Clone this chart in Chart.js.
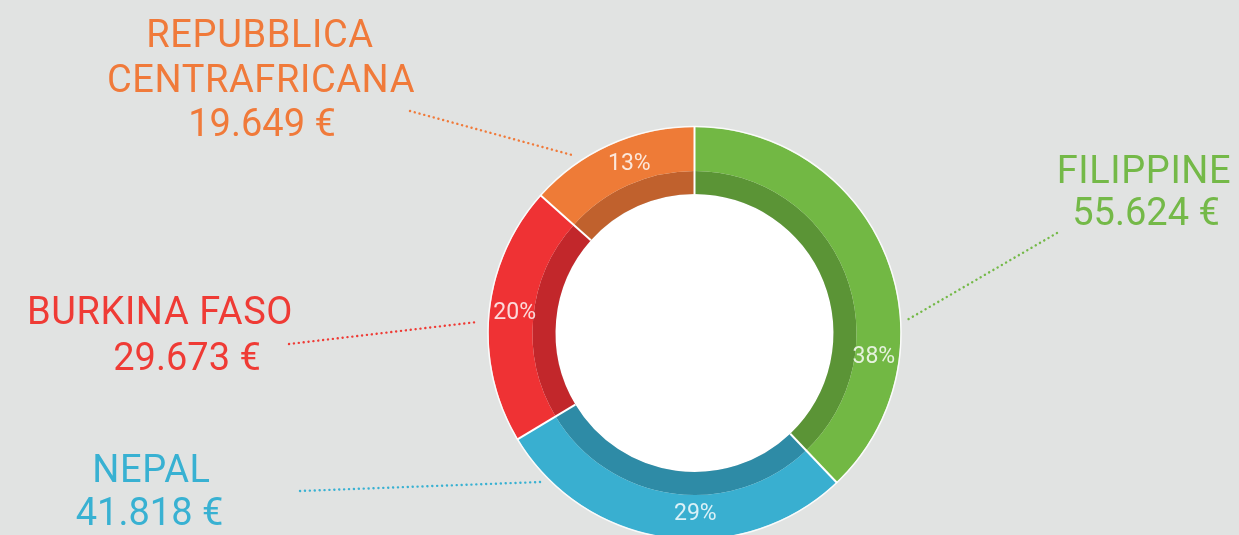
<!DOCTYPE html>
<html>
<head>
<meta charset="utf-8">
<script src="https://cdn.jsdelivr.net/npm/chart.js@4.4.1/dist/chart.umd.min.js"></script>
<style>
    html, body { margin: 0; padding: 0; background: #e1e3e2; overflow: hidden; }
    #wrap { width: 1239px; height: 666px; }
</style>
</head>
<body>
<div id="wrap"><canvas id="donazioniChart" width="1239" height="666"></canvas></div>
<script>
    // Dati per paese
    var paesi = [['FILIPPINE'], ['NEPAL'], ['BURKINA FASO'], ['REPUBBLICA', 'CENTRAFRICANA']];
    var importi = [55624, 41818, 29673, 19649];
    var coloriChiari = ['#72b844', '#39afd0', '#ef3234', '#ee7b37'];
    var coloriScuri = ['#5b9436', '#2e8ba6', '#c2272b', '#c0612d'];
    var coloriTesto = ['#74b948', '#38b1d2', '#ef3b35', '#f07a3a'];

    function formatEuro(v) {
        return String(v).replace(/\B(?=(\d{3})+(?!\d))/g, '.') + ' €';
    }

    // percentuali intere che sommano a 100 (metodo dei resti maggiori)
    function percentuali(valori) {
        var tot = valori.reduce(function (a, b) { return a + b; }, 0);
        var esatti = valori.map(function (v) { return v / tot * 100; });
        var interi = esatti.map(Math.floor);
        var mancano = 100 - interi.reduce(function (a, b) { return a + b; }, 0);
        var ordine = esatti.map(function (e, i) { return i; })
            .sort(function (a, b) { return (esatti[b] - interi[b]) - (esatti[a] - interi[a]); });
        for (var k = 0; k < mancano; k++) interi[ordine[k]]++;
        return interi;
    }

    var etichette = {
        id: 'etichette',
        beforeDatasetsDraw: function (chart, args, opts) {
            var ctx = chart.ctx;
            var inner = chart.getDatasetMeta(1).data[0];
            ctx.save();
            // foro bianco
            ctx.fillStyle = '#ffffff';
            ctx.beginPath();
            ctx.arc(inner.x, inner.y, inner.innerRadius, 0, Math.PI * 2);
            ctx.fill();
            // linee tratteggiate
            ctx.lineWidth = 2.4;
            ctx.lineCap = 'round';
            ctx.setLineDash([0.1, 4.8]);
            opts.linee.forEach(function (l, i) {
                ctx.strokeStyle = coloriTesto[i];
                ctx.beginPath();
                ctx.moveTo(l[0], l[1]);
                ctx.lineTo(l[2], l[3]);
                ctx.stroke();
            });
            ctx.restore();
        },
        afterDatasetsDraw: function (chart, args, opts) {
            var ctx = chart.ctx;
            var outer = chart.getDatasetMeta(0).data;
            var innerR = chart.getDatasetMeta(1).data[0].innerRadius;
            var cx = outer[0].x, cy = outer[0].y, R = outer[0].outerRadius;
            var pct = percentuali(importi);
            ctx.save();
            // separatori
            ctx.strokeStyle = '#ffffff';
            ctx.lineWidth = 2;
            outer.forEach(function (arc) {
                var a = arc.startAngle;
                ctx.beginPath();
                ctx.moveTo(cx + innerR * Math.cos(a), cy + innerR * Math.sin(a));
                ctx.lineTo(cx + (R + 1) * Math.cos(a), cy + (R + 1) * Math.sin(a));
                ctx.stroke();
            });
            // bordo esterno
            ctx.strokeStyle = 'rgba(255,255,255,0.85)';
            ctx.lineWidth = 1.5;
            ctx.beginPath();
            ctx.arc(cx, cy, R + 0.5, 0, Math.PI * 2);
            ctx.stroke();

            // percentuali
            ctx.font = '23px Roboto';
            ctx.fillStyle = 'rgba(255,255,255,0.82)';
            ctx.textAlign = 'center';
            ctx.textBaseline = 'middle';
            outer.forEach(function (arc, i) {
                var mid = (arc.startAngle + arc.endAngle) / 2 + opts.spostamento[i] * Math.PI / 180;
                var r = 181;
                ctx.fillText(pct[i] + '%', cx + r * Math.cos(mid), cy + r * Math.sin(mid));
            });

            // nomi e importi
            ctx.font = '38px Roboto';
            ctx.textBaseline = 'alphabetic';
            paesi.forEach(function (righe, i) {
                var pos = opts.posizioni[i];
                var testi = righe.concat([formatEuro(importi[i])]);
                ctx.fillStyle = coloriTesto[i];
                testi.forEach(function (t, j) {
                    ctx.letterSpacing = j < righe.length ? '0.6px' : '0px';
                    ctx.fillText(t, pos[j][0], pos[j][1]);
                });
            });
            ctx.restore();
        }
    };

    var ctx = document.getElementById('donazioniChart').getContext('2d');
    new Chart(ctx, {
        type: 'doughnut',
        data: {
            labels: paesi,
            datasets: [
                {
                    data: importi,
                    backgroundColor: coloriChiari,
                    borderWidth: 0,
                    hoverOffset: 0,
                    weight: 44
                },
                {
                    data: importi,
                    backgroundColor: coloriScuri,
                    borderWidth: 0,
                    hoverOffset: 0,
                    weight: 23
                }
            ]
        },
        options: {
            responsive: false,
            animation: false,
            events: [],
            cutout: 139,
            layout: { padding: { left: 488.5, right: 338.5, top: 0, bottom: 0 } },
            plugins: {
                legend: { display: false },
                tooltip: { enabled: false },
                etichette: {
                    spostamento: [29.5, -8, 1, 3],
                    posizioni: [
                        [[1144, 183], [1146, 225]],
                        [[151.5, 482], [149.5, 525]],
                        [[160, 324], [187, 370]],
                        [[260, 47], [261, 92], [262, 136]]
                    ],
                    linee: [
                        [1057, 233, 907, 320],
                        [300, 491, 541, 482],
                        [289, 344, 477, 322],
                        [410, 111, 572, 155]
                    ]
                }
            }
        },
        plugins: [etichette]
    });
</script>
</body>
</html>
